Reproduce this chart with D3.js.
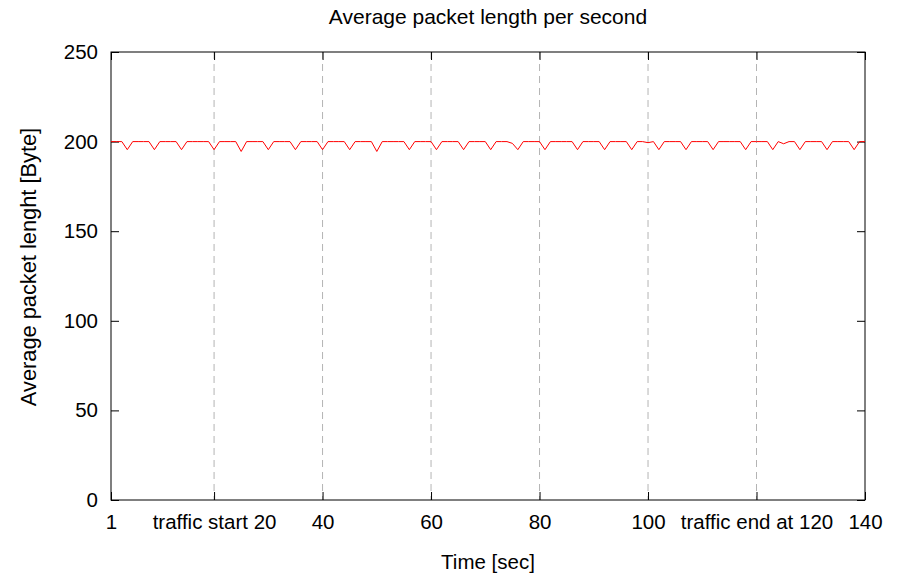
<!DOCTYPE html>
<html>
<head>
<meta charset="utf-8">
<script src="https://cdn.jsdelivr.net/npm/d3@7"></script>
<style>
  body { margin: 0; background: #fff; }
  svg { font-family: "Liberation Sans", Arial, sans-serif; }
</style>
</head>
<body>
<svg id="chart" width="908" height="576"></svg>
<script>
// average packet length per second, t = 1 .. 140
const seconds = d3.range(1, 141);
const avgLength = [
  200, 200, 200, 195.5, 200, 200, 200, 200, 195.5, 200,
  200, 200, 200, 195.5, 200, 200, 200, 200, 200, 195.5,
  200, 200, 200, 200, 194.5, 200, 200, 200, 200, 195.5,
  200, 200, 200, 200, 195.5, 200, 200, 200, 200, 195.5,
  200, 200, 200, 200, 195.5, 200, 200, 200, 200, 194.5,
  200, 200, 200, 200, 200, 195.5, 200, 200, 200, 200,
  195.5, 200, 200, 200, 200, 195.5, 200, 200, 200, 200,
  195.5, 200, 200, 200, 199, 195.5, 200, 200, 200, 200,
  195.5, 200, 200, 200, 200, 200, 195.5, 200, 200, 200,
  200, 195.5, 200, 200, 200, 200, 195.5, 200, 200, 199.4,
  200, 195.5, 200, 200, 200, 200, 195.5, 200, 200, 200,
  200, 195.5, 200, 200, 200, 200, 200, 195.5, 200, 200,
  200, 200, 195.5, 200, 198.8, 200, 200, 195.5, 200, 200,
  200, 200, 195.5, 200, 200, 200, 200, 195.5, 200, 200
];
const xTicks = [1, 20, 40, 60, 80, 100, 120, 140];
const xTickLabels = ["1", "traffic start 20", "40", "60", "80", "100", "traffic end at 120", "140"];
const yTicks = [0, 50, 100, 150, 200, 250];

const svg = d3.select("#chart"),
      margin = {top: 52, right: 43, bottom: 76, left: 111},
      width = +svg.attr("width") - margin.left - margin.right,
      height = +svg.attr("height") - margin.top - margin.bottom;

const g = svg.append("g")
  .attr("transform", "translate(" + margin.left + "," + margin.top + ")");

const x = d3.scaleLinear().domain([1, 140]).range([0, width]);
const y = d3.scaleLinear().domain([0, 250]).range([height, 0]);

// dashed vertical grid
g.selectAll(".grid")
  .data(xTicks.filter(d => d != 1 && d != 140))
  .enter()
  .append("line")
  .attr("x1", d => x(d)).attr("x2", d => x(d))
  .attr("y1", 0).attr("y2", height)
  .attr("stroke", "#b4b4b4")
  .attr("stroke-width", 1)
  .attr("stroke-dasharray", "7,5");

// axes, ticks pointing inward
g.append("g")
  .attr("transform", "translate(0," + height + ")")
  .call(d3.axisBottom(x).tickValues(xTicks)
    .tickFormat((d, i) => xTickLabels[i])
    .tickSize(-8).tickSizeOuter(0).tickPadding(14));

g.append("g")
  .call(d3.axisTop(x).tickValues(xTicks).tickFormat("")
    .tickSize(-8).tickSizeOuter(0));

g.append("g")
  .call(d3.axisLeft(y).tickValues(yTicks)
    .tickSize(-8).tickSizeOuter(0).tickPadding(13));

g.append("g")
  .attr("transform", "translate(" + width + ",0)")
  .call(d3.axisRight(y).tickValues(yTicks).tickFormat("")
    .tickSize(-8).tickSizeOuter(0));

g.selectAll(".domain").remove();
g.selectAll(".tick line").attr("stroke", "#000");
g.selectAll(".tick text")
  .attr("font-size", 20.5)
  .attr("fill", "#000");

// border
g.append("rect")
  .attr("x", 0).attr("y", 0)
  .attr("width", width).attr("height", height)
  .attr("fill", "none")
  .attr("stroke", "#000")
  .attr("stroke-width", 1);

// data line
const line = d3.line()
  .x((d, i) => x(seconds[i]))
  .y(d => y(d));

g.append("path")
  .datum(avgLength)
  .attr("d", line)
  .attr("fill", "none")
  .attr("stroke", "#ff0000")
  .attr("stroke-width", 1);

// title and axis labels
svg.append("text")
  .attr("x", margin.left + width / 2)
  .attr("y", 24)
  .attr("text-anchor", "middle")
  .attr("font-size", 21)
  .text("Average packet length per second");

svg.append("text")
  .attr("x", margin.left + width / 2)
  .attr("y", 569)
  .attr("text-anchor", "middle")
  .attr("font-size", 20.5)
  .text("Time [sec]");

svg.append("text")
  .attr("transform", "translate(36," + (margin.top + height / 2 - 9) + ") rotate(-90)")
  .attr("text-anchor", "middle")
  .attr("font-size", 21.8)
  .text("Average packet lenght [Byte]");
</script>
</body>
</html>
